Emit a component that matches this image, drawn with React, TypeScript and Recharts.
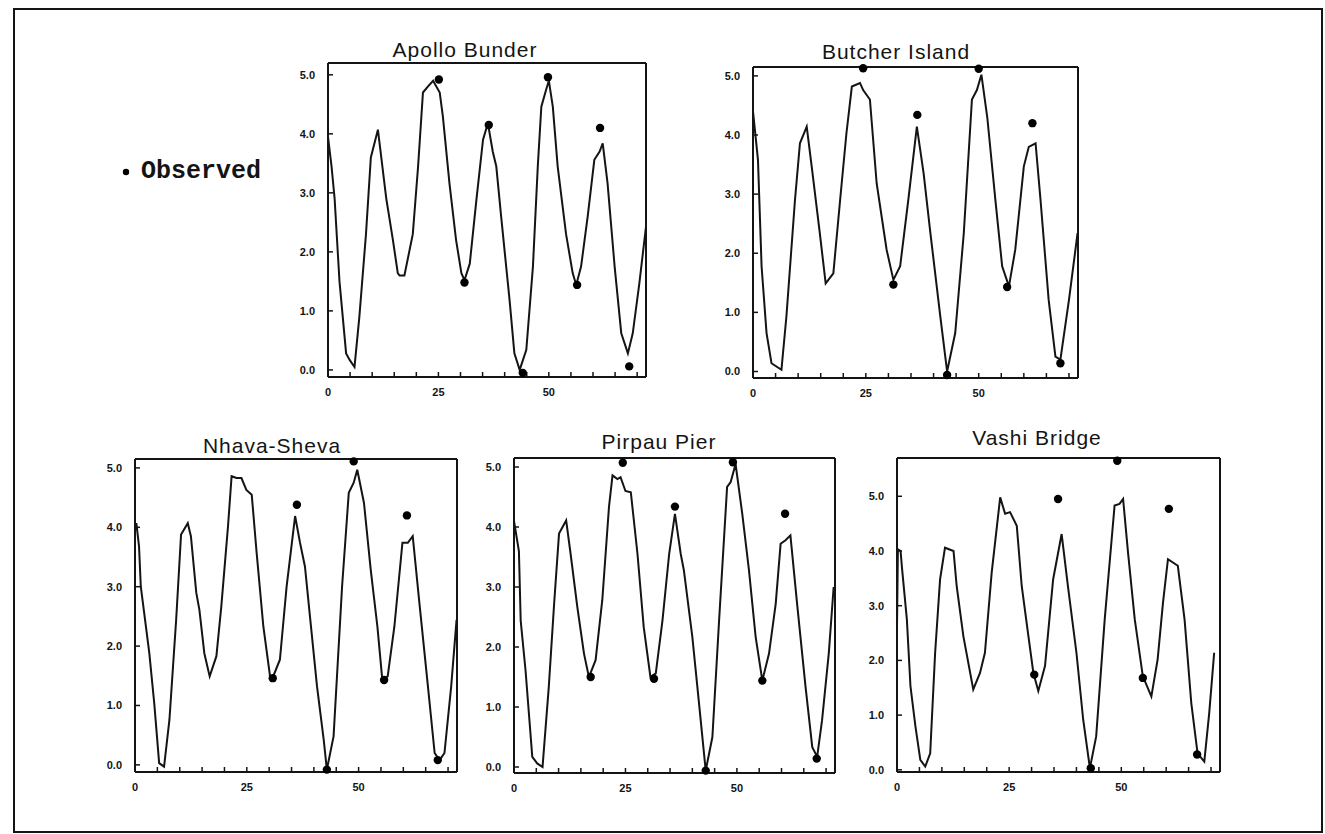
import React from 'react';
import { ComposedChart, Line, Scatter, XAxis, YAxis } from 'recharts';

type Pt = [number, number];

// computed tide (time in hours, height in m)
const apolloModel: Pt[] = [
  [0, 3.95], [0.8, 3.45], [1.5, 2.9], [2.6, 1.5], [4.1, 0.28], [4.9, 0.17], [6.0, 0.05], [7.1, 0.9],
  [8.6, 2.3], [9.7, 3.6], [11.3, 4.07], [13.2, 2.9], [14.7, 2.2], [15.8, 1.64], [16.2, 1.6], [17.3, 1.6],
  [19.2, 2.3], [20.4, 3.45], [21.5, 4.7], [22.6, 4.8], [23.8, 4.9], [25.3, 4.7], [26, 4.3], [27.5, 3.16],
  [29, 2.2], [30.2, 1.64], [30.9, 1.52], [32.1, 1.8], [33.6, 2.88], [35.1, 3.9], [36.2, 4.18], [37.3, 3.7],
  [38.1, 3.45], [39.2, 2.6], [41.1, 1.19], [42.2, 0.28], [43.4, 0.0], [44.9, 0.34], [46.4, 1.75], [47.5, 3.45],
  [48.3, 4.46], [49.4, 4.75], [50, 4.9], [50.9, 4.46], [52, 3.45], [53.9, 2.3], [55.4, 1.64], [56.2, 1.44],
  [57.3, 1.75], [58.8, 2.6], [60.3, 3.56], [61.5, 3.7], [62.2, 3.84], [63.3, 3.16], [64.9, 1.75], [66.4, 0.62],
  [67.9, 0.28], [69, 0.62], [70.5, 1.47], [72, 2.43],
];
const apolloObserved: Pt[] = [
  [25.1, 4.92], [30.9, 1.48], [36.4, 4.15], [44.1, -0.05], [49.8, 4.96], [56.4, 1.44], [61.6, 4.1], [68.2, 0.06],
];

const butcherModel: Pt[] = [
  [0, 4.4], [1.1, 3.58], [1.9, 1.78], [3, 0.65], [4.1, 0.14], [6.3, 0.03], [7.4, 0.93], [9.3, 2.9],
  [10.4, 3.86], [11.9, 4.14], [13, 3.47], [14.8, 2.34], [16.1, 1.49], [17.8, 1.66], [19.3, 2.9], [20.7, 4.03],
  [21.9, 4.82], [23.7, 4.88], [24.4, 4.76], [25.9, 4.6], [27.4, 3.18], [29.6, 2.06], [31.1, 1.55], [32.6, 1.78],
  [34.4, 2.9], [36.3, 4.14], [37.8, 3.35], [39.3, 2.34], [41.5, 0.93], [43, 0], [44.8, 0.65], [46.7, 2.34],
  [48.5, 4.6], [49.6, 4.76], [50.6, 5.02], [51.9, 4.3], [53.7, 2.9], [55.2, 1.78], [56.7, 1.44], [58.1, 2.06],
  [60, 3.47], [61.1, 3.8], [62.6, 3.86], [63.7, 2.9], [65.5, 1.21], [67, 0.25], [68.1, 0.2], [70, 1.21], [71.9, 2.34],
];
const butcherObserved: Pt[] = [
  [24.4, 5.13], [31.1, 1.47], [36.4, 4.34], [43, -0.06], [50, 5.12], [56.3, 1.43], [61.9, 4.2], [68.1, 0.14],
];

const nhavaModel: Pt[] = [
  [0, 3.95], [0.3, 4.07], [0.9, 3.68], [1.3, 3.0], [3.2, 1.88], [4.3, 1.04], [5.4, 0.03], [6.5, -0.03],
  [7.7, 0.76], [9.2, 2.44], [10.3, 3.88], [11.8, 4.07], [12.5, 3.85], [13.7, 2.9], [14.4, 2.61], [15.5, 1.88],
  [16.7, 1.49], [18.2, 1.83], [19.3, 2.67], [20.8, 4.02], [21.6, 4.86], [22.7, 4.83], [23.8, 4.83], [24.9, 4.63],
  [26.1, 4.55], [27.2, 3.57], [28.7, 2.33], [30.2, 1.49], [30.9, 1.49], [32.4, 1.77], [33.9, 3.0], [35.8, 4.19],
  [36.9, 3.74], [38, 3.34], [39.2, 2.44], [40.7, 1.32], [42.2, 0.42], [42.9, -0.08], [44.4, 0.48], [46.3, 3.0],
  [47.8, 4.58], [48.9, 4.75], [49.7, 4.97], [51.2, 4.41], [52.7, 3.29], [54.2, 2.33], [55.3, 1.43], [56.5, 1.49],
  [58, 2.33], [59.8, 3.74], [61, 3.74], [62.1, 3.85], [63.6, 2.72], [65.5, 1.32], [67, 0.2], [68.1, 0.08],
  [69.2, 0.2], [70.7, 1.32], [71.9, 2.44],
];
const nhavaObserved: Pt[] = [
  [30.8, 1.46], [36.2, 4.38], [42.9, -0.08], [48.9, 5.11], [55.7, 1.43], [60.8, 4.2], [67.7, 0.08],
];

const pirpauModel: Pt[] = [
  [0, 4.1], [1.1, 3.6], [1.5, 2.44], [2.6, 1.6], [4.1, 0.17], [5.2, 0.06], [6.4, 0], [7.8, 1.33],
  [9.0, 2.72], [10.1, 3.89], [11.7, 4.11], [12.7, 3.55], [14.2, 2.67], [15.7, 1.89], [16.8, 1.5], [18.3, 1.78],
  [19.8, 2.78], [21.3, 4.33], [22.1, 4.86], [23.2, 4.8], [23.9, 4.83], [25.0, 4.6], [26.2, 4.58], [27.7, 3.55],
  [29.1, 2.33], [30.6, 1.5], [31.8, 1.56], [33.3, 2.44], [34.8, 3.55], [36.1, 4.22], [37.4, 3.55], [38.1, 3.28],
  [40, 2.17], [41.5, 1.06], [43, -0.06], [44.5, 0.5], [46.0, 2.44], [47.8, 4.67], [48.6, 4.75], [49.7, 5.05],
  [51.2, 4.22], [52.7, 3.28], [54.2, 2.17], [55.7, 1.44], [57.2, 1.89], [58.7, 2.72], [59.8, 3.72], [60.9, 3.78],
  [62, 3.86], [63.5, 2.72], [65.4, 1.33], [66.9, 0.33], [68, 0.17], [69.1, 0.78], [70.6, 1.89], [71.7, 3.0],
];
const pirpauObserved: Pt[] = [
  [17.2, 1.5], [24.4, 5.07], [31.4, 1.47], [36.1, 4.34], [43, -0.06], [49.1, 5.08], [55.7, 1.44], [60.8, 4.22], [67.9, 0.14],
];

const vashiModel: Pt[] = [
  [0, 2.6], [0.2, 4.03], [0.8, 4.0], [1.1, 3.7], [2.2, 2.75], [3, 1.53], [4.1, 0.8], [5.2, 0.18],
  [6.3, 0.06], [7.4, 0.3], [8.5, 2.14], [9.6, 3.48], [10.7, 4.06], [12.6, 4.0], [13.3, 3.36], [14.8, 2.44],
  [17, 1.47], [18.5, 1.77], [19.6, 2.14], [21.1, 3.6], [23, 4.98], [24.1, 4.68], [25.2, 4.71], [26.7, 4.46],
  [27.8, 3.36], [29.3, 2.44], [30.4, 1.77], [31.5, 1.44], [33, 1.9], [34.8, 3.48], [36.7, 4.31], [38.1, 3.36],
  [40, 2.14], [41.5, 0.92], [43, 0.03], [44.4, 0.61], [46.3, 2.75], [48.5, 4.83], [49.6, 4.86], [50.4, 4.95],
  [51.5, 3.97], [53, 2.75], [54.8, 1.71], [56.7, 1.34], [58.1, 2.02], [59.3, 3.06], [60.4, 3.85], [62.6, 3.73],
  [64.1, 2.75], [65.6, 1.22], [67, 0.3], [68.5, 0.15], [69.6, 1.04], [70.7, 2.14],
];
const vashiObserved: Pt[] = [
  [30.6, 1.74], [35.9, 4.95], [43.2, 0.03], [49.1, 5.65], [54.8, 1.68], [60.6, 4.77], [66.9, 0.28],
];

const xTicks = [0, 5, 10, 15, 20, 25, 30, 35, 40, 45, 50, 55, 60, 65, 70];
const xLabels = [0, 25, 50];
const yTicks = [0, 1, 2, 3, 4, 5];
const legendLabel = 'Observed';

const toRows = (pts: Pt[]) => pts.map(([t, h]) => ({ t, h }));

const INK = '#141414';
const tickStyle = { fontSize: 11, fontWeight: 700, fill: INK, fontFamily: "'Liberation Sans', Arial, sans-serif" };

interface PanelProps {
  title: string;
  model: Pt[];
  observed: Pt[];
  left: number;
  top: number;
  width: number;
  height: number;
  yDomain: [number, number];
  titleX: number;
  titleY: number;
}

const Dot = (props: any) => <circle cx={props.cx} cy={props.cy} r={4.2} fill="#000" />;

const Panel: React.FC<PanelProps> = ({ title, model, observed, left, top, width, height, yDomain, titleX, titleY }) => (
  <>
    <div
      style={{
        position: 'absolute',
        left: titleX,
        top: titleY,
        transform: 'translateX(-50%)',
        fontFamily: "'Liberation Sans', Arial, sans-serif",
        fontSize: 21,
        lineHeight: '21px',
        letterSpacing: 1,
        whiteSpace: 'nowrap',
        color: INK,
      }}
    >
      {title}
    </div>
    <div style={{ position: 'absolute', left: left - 40, top: top - 10 }}>
      {/* top axis 1px tall and right axis 1px wide close the frame */}
      <ComposedChart width={width + 50} height={height + 35} margin={{ top: 9, right: 9, left: 0, bottom: 0 }}>
        <XAxis
          xAxisId="b"
          dataKey="t"
          type="number"
          domain={[0, 72]}
          ticks={xTicks}
          interval={0}
          tickFormatter={(v: number) => (xLabels.includes(v) ? String(v) : '')}
          tickSize={-5}
          tickMargin={16}
          height={25}
          axisLine={{ stroke: INK, strokeWidth: 2 }}
          tickLine={{ stroke: INK, strokeWidth: 1.5 }}
          tick={tickStyle}
        />
        <XAxis
          xAxisId="t"
          orientation="top"
          type="number"
          domain={[0, 72]}
          ticks={xTicks}
          interval={0}
          tickFormatter={() => ''}
          tickSize={-5}
          height={1}
          axisLine={{ stroke: INK, strokeWidth: 2 }}
          tickLine={{ stroke: INK, strokeWidth: 1.5 }}
        />
        <YAxis
          yAxisId="l"
          type="number"
          domain={yDomain}
          ticks={yTicks}
          interval={0}
          tickFormatter={(v: number) => v.toFixed(1)}
          tickSize={-5}
          tickMargin={18}
          width={40}
          axisLine={{ stroke: INK, strokeWidth: 2 }}
          tickLine={{ stroke: INK, strokeWidth: 1.5 }}
          tick={tickStyle}
        />
        <YAxis
          yAxisId="r"
          orientation="right"
          type="number"
          domain={yDomain}
          ticks={yTicks}
          interval={0}
          tickFormatter={() => ''}
          tickSize={-5}
          width={1}
          axisLine={{ stroke: INK, strokeWidth: 2 }}
          tickLine={{ stroke: INK, strokeWidth: 1.5 }}
        />
        <Line
          xAxisId="b"
          yAxisId="l"
          data={toRows(model)}
          dataKey="h"
          type="linear"
          stroke={INK}
          strokeWidth={2}
          dot={false}
          isAnimationActive={false}
        />
        <Scatter
          xAxisId="b"
          yAxisId="l"
          data={toRows(observed)}
          dataKey="h"
          shape={Dot}
          isAnimationActive={false}
        />
      </ComposedChart>
    </div>
  </>
);

export default function App() {
  return (
    <div style={{ position: 'absolute', left: 0, top: 0, width: 1325, height: 834, background: '#fff' }}>
      <div
        style={{
          position: 'absolute',
          left: 13,
          top: 8,
          width: 1310,
          height: 825,
          border: `2px solid ${INK}`,
          boxSizing: 'border-box',
        }}
      />
      <div style={{ position: 'absolute', left: 121, top: 159, display: 'flex', alignItems: 'center', color: INK }}>
        <svg width={10} height={10} style={{ marginRight: 10 }}>
          <circle cx={5} cy={5} r={3.2} fill="#000" />
        </svg>
        <span
          style={{
            fontFamily: "'Liberation Mono', 'Courier New', monospace",
            fontWeight: 700,
            fontSize: 25,
            lineHeight: '25px',
          }}
        >
          {legendLabel}
        </span>
      </div>
      <Panel title="Apollo Bunder" model={apolloModel} observed={apolloObserved}
        left={328} top={63} width={318} height={314} yDomain={[-0.12, 5.2]} titleX={465} titleY={39} />
      <Panel title="Butcher Island" model={butcherModel} observed={butcherObserved}
        left={753} top={67} width={325} height={311} yDomain={[-0.11, 5.15]} titleX={896} titleY={41} />
      <Panel title="Nhava-Sheva" model={nhavaModel} observed={nhavaObserved}
        left={135} top={459} width={322} height={313} yDomain={[-0.12, 5.15]} titleX={272} titleY={435} />
      <Panel title="Pirpau Pier" model={pirpauModel} observed={pirpauObserved}
        left={514} top={458} width={321} height={315} yDomain={[-0.1, 5.15]} titleX={659} titleY={431} />
      <Panel title="Vashi Bridge" model={vashiModel} observed={vashiObserved}
        left={897} top={458} width={323} height={314} yDomain={[-0.04, 5.7]} titleX={1037} titleY={427} />
    </div>
  );
}
